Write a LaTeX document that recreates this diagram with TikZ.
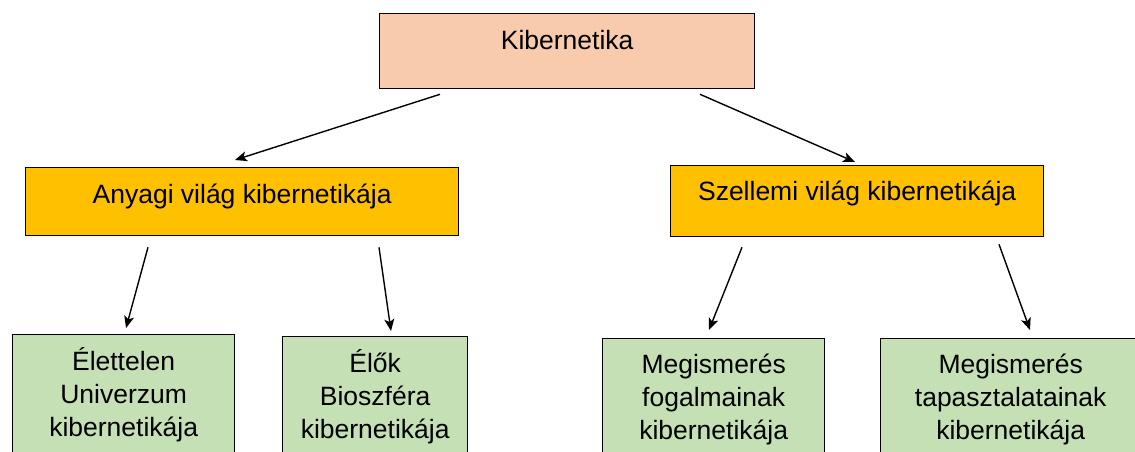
\documentclass[tikz,border=0pt]{standalone}
\usepackage{fontspec}
\setmainfont{Liberation Sans}
\usetikzlibrary{calc,arrows.meta}
\definecolor{Kpeach}{HTML}{F8CBAD}
\definecolor{Kgold}{HTML}{FFC000}
\definecolor{Kgreen}{HTML}{C5E0B4}
\tikzset{%
    Kbox/.style={draw=black, line width=1.3pt, fill=#1, inner sep=0pt, anchor=north west,
        font=\fontsize{26.5}{33}\selectfont, align=center}, Kbox/.default={Kgreen},
    Ktop/.style={text height=19pt, text depth=#1},
    Karrow/.style={line width=1.4pt, -{Stealth[length=12pt, width=10pt, inset=3pt]}}
}

\begin{document}
\begin{tikzpicture}[x=1pt, y=-1pt]
        \useasboundingbox (0,0) rectangle (1135,452);
        \clip (0,0) rectangle (1135,452);
        \node [Kbox=Kpeach, Ktop=22pt, minimum width=375pt, minimum height=75pt]
            (kib) at (379,13) {Kibernetika};
        \node [Kbox=Kgold, Ktop=15pt, minimum width=433pt, minimum height=68pt]
            (anyagi) at (25,167) {Anyagi világ kibernetikája};
        \node [Kbox=Kgold, Ktop=20pt, minimum width=373pt, minimum height=71pt]
            (szellemi) at (670,165) {Szellemi világ kibernetikája};
        \node [Kbox, minimum width=222pt, minimum height=120pt]
            (elettelen) at (12,334) {Élettelen\\Univerzum\\kibernetikája};
        \node [Kbox, minimum width=185pt, minimum height=120pt]
            (elok) at (282,336) {Élők\\Bioszféra\\kibernetikája};
        \node [Kbox, minimum width=222pt, minimum height=122pt]
            (fogalmak) at (602,338) {Megismerés\\fogalmainak\\kibernetikája};
        \node [Kbox, minimum width=260pt, minimum height=122pt]
            (tapasztalat) at (880,338) {Megismerés\\tapasztalatainak\\kibernetikája};
        \draw [Karrow] ([shift={(61,5)}]kib.south west) -- ([shift={(210,-7)}]anyagi.north west);
        \draw [Karrow] ([shift={(321,5)}]kib.south west) -- ([shift={(185,-3)}]szellemi.north west);
        \draw [Karrow] ([shift={(123,11)}]anyagi.south west) -- ([shift={(114,-6)}]elettelen.north west);
        \draw [Karrow] ([shift={(354,11)}]anyagi.south west) -- ([shift={(109,-5)}]elok.north west);
        \draw [Karrow] ([shift={(72,10)}]szellemi.south west) -- ([shift={(107,-8)}]fogalmak.north west);
        \draw [Karrow] ([shift={(329,7)}]szellemi.south west) -- ([shift={(150,-8)}]tapasztalat.north west);
    \end{tikzpicture}
\end{document}
